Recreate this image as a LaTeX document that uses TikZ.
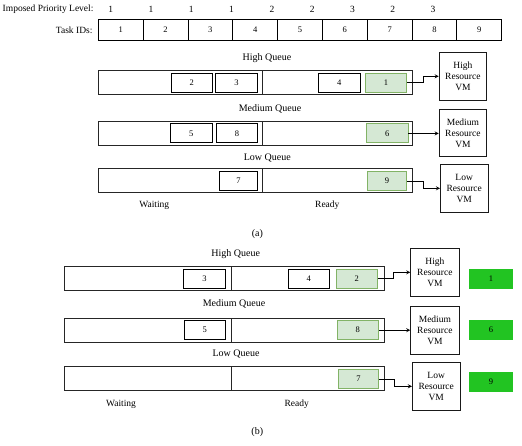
\documentclass[tikz,border=0pt]{standalone}
\usepackage{fontspec}
\setmainfont{Liberation Serif}
\usepackage{tikz}
\usetikzlibrary{calc}
\usetikzlibrary{positioning}
\usetikzlibrary{arrows}
\definecolor{runfill}{RGB}{213,232,212}
\definecolor{runborder}{RGB}{130,179,102}
\definecolor{donegreen}{RGB}{34,196,34}
\tikzstyle{queue} = [rectangle,
    draw=black!85,
    line width=0.9pt,
    minimum height=24pt,
    inner sep=0pt,
    outer sep=0pt]
\tikzstyle{task} = [rectangle,
    draw=black,
    line width=0.9pt,
    minimum width=41.5pt,
    minimum height=19pt,
    inner sep=0pt,
    font=\fontsize{8.5}{10}\selectfont]
\tikzstyle{running} = [task, draw=runborder, fill=runfill]
\tikzstyle{done} = [rectangle,
    fill=donegreen,
    minimum width=43.5pt,
    minimum height=19.5pt,
    inner sep=0pt,
    font=\fontsize{8.5}{10}\selectfont]
\tikzstyle{vm} = [rectangle,
    draw=black!90,
    line width=0.9pt,
    minimum width=47.5pt,
    minimum height=47.5pt,
    inner sep=0pt,
    align=center,
    font=\fontsize{9.5}{11}\selectfont]
\tikzstyle{idcell} = [rectangle,
    draw=black,
    line width=0.8pt,
    minimum width=44.8pt,
    minimum height=21.4pt,
    inner sep=0pt,
    outer sep=0pt,
    font=\fontsize{8.5}{10}\selectfont]
\tikzstyle{label} = [font=\fontsize{9.5}{11}\selectfont]
\tikzstyle{qlabel} = [font=\fontsize{10}{12}\selectfont]
\tikzstyle{arrow} = [line width=0.8pt,->,>=stealth]

\begin{document}
\begin{tikzpicture}[x=1pt, y=-1pt]
\useasboundingbox (0,0) rectangle (522,445);

% priorities and task IDs
\node (prio) [label, anchor=east] at (97,9) {Imposed Priority Level:};
\foreach \p [count=\i] in {1,1,1,1,2,2,3,2,3} {
    \pgfmathsetmacro{\px}{110.7+40.3*(\i-1)}
    \node (p\i) [label] at (\px,9) {\p};
}
\node (ids) [label, anchor=east] at (96,30) {Task IDs:};
\foreach \i in {1,...,9} {
    \pgfmathsetmacro{\cx}{98.3+44.82*\i-22.41}
    \node (id\i) [idcell] at (\cx,30) {\i};
}

% (a) high
\node (ahq) [qlabel] at (267,58) {High Queue};
\node (ahw) [queue, minimum width=164.4pt, anchor=east] at (262.7,82.7) {};
\node (ahr) [queue, minimum width=150pt, anchor=west] at (262.7,82.7) {};
\node (a2) [task] at (191.8,82.8) {2};
\node (a3) [task] at (236.5,82.8) {3};
\node (a4) [task] at (339.2,82.8) {4};
\node (a1) [running] at (386,82.8) {1};
\node (avh) [vm] at (462.9,76.3) {High\\Resource\\VM};

% (a) medium
\node (amq) [qlabel] at (270,108.7) {Medium Queue};
\node (amw) [queue, minimum width=164.4pt, anchor=east] at (262.7,133.3) {};
\node (amr) [queue, minimum width=150pt, anchor=west] at (262.7,133.3) {};
\node (a5) [task] at (191.2,133.4) {5};
\node (a8) [task] at (236.9,133.4) {8};
\node (a6) [running] at (387.2,133.4) {6};
\node (avm) [vm] at (462.9,133) {Medium\\Resource\\VM};

% (a) low
\node (alq) [qlabel] at (267.3,157.7) {Low Queue};
\node (alw) [queue, minimum width=164.4pt, anchor=east] at (262.7,180.7) {};
\node (alr) [queue, minimum width=150pt, anchor=west] at (262.7,180.7) {};
\node (a7) [task, minimum width=38.5pt] at (238.5,181) {7};
\node (a9) [running, minimum width=39.5pt] at (387,181) {9};
\node (avl) [vm] at (464.2,188.3) {Low\\Resource\\VM};

\node (await) [label] at (154.3,205.7) {Waiting};
\node (aready) [label] at (327.3,205.7) {Ready};
\node (capa) [qlabel] at (257.3,234) {(a)};

\draw [arrow] (a1.east) -- ([xshift=16.5pt]a1.east) |- (avh.west);
\draw [arrow] (a6.east) -- (a6.east -| avm.west);
\draw [arrow] (a9.east) -- ([xshift=16.5pt]a9.east) |- (avl.west);

% (b) high
\node (bhq) [qlabel] at (235.7,254) {High Queue};
\node (bhw) [queue, minimum width=167.3pt, anchor=east] at (231.3,278.5) {};
\node (bhr) [queue, minimum width=153pt, anchor=west] at (231.3,278.5) {};
\node (b3) [task] at (204.5,278.7) {3};
\node (b4) [task] at (308.7,278.7) {4};
\node (b2) [running] at (356.7,278.7) {2};
\node (bvh) [vm, minimum width=48.3pt, minimum height=48pt] at (434.9,272.3) {High\\Resource\\VM};
\node (bd1) [done] at (491,278.9) {1};

% (b) medium
\node (bmq) [qlabel] at (234,304.3) {Medium Queue};
\node (bmw) [queue, minimum width=167.3pt, anchor=east] at (231.3,330) {};
\node (bmr) [queue, minimum width=153pt, anchor=west] at (231.3,330) {};
\node (b5) [task] at (204.7,330.2) {5};
\node (b8) [running] at (357.7,330.2) {8};
\node (bvm) [vm, minimum width=48.3pt, minimum height=48pt] at (434.9,330) {Medium\\Resource\\VM};
\node (bd6) [done] at (491,330) {6};

% (b) low
\node (blq) [qlabel] at (236,354.3) {Low Queue};
\node (blw) [queue, minimum width=167.3pt, anchor=east] at (231.3,378.7) {};
\node (blr) [queue, minimum width=153pt, anchor=west] at (231.3,378.7) {};
\node (b7) [running, minimum width=39.5pt] at (358.5,379) {7};
\node (bvl) [vm, minimum width=47.7pt, minimum height=48pt] at (436.2,386.3) {Low\\Resource\\VM};
\node (bd9) [done] at (491,381.8) {9};

\node (bwait) [label] at (121,404.3) {Waiting};
\node (bready) [label] at (296.7,404.3) {Ready};
\node (capb) [qlabel] at (257.3,432.3) {(b)};

\draw [arrow] (b2.east) -- ([xshift=15.7pt]b2.east) |- (bvh.west);
\draw [arrow] (b8.east) -- (b8.east -| bvm.west);
\draw [arrow] (b7.east) -- ([xshift=15.7pt]b7.east) |- (bvl.west);

\end{tikzpicture}
\end{document}
